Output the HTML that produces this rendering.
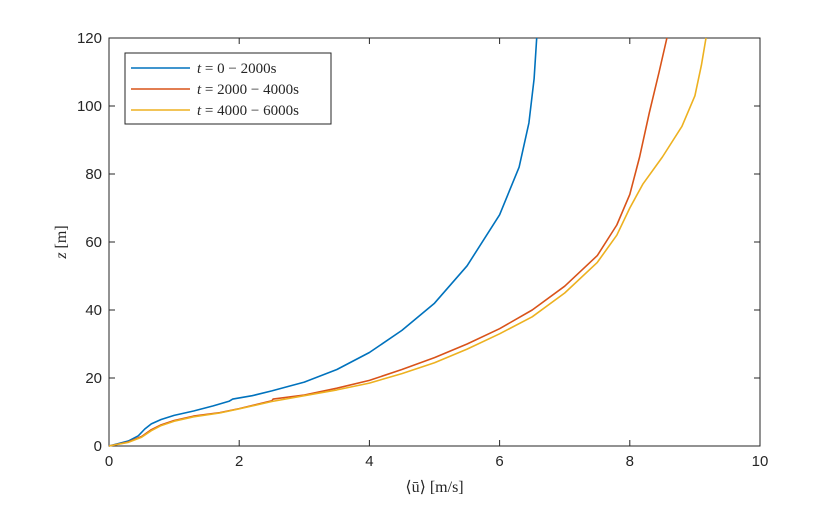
<!DOCTYPE html>
<html><head><meta charset="utf-8"><style>
body{margin:0;background:#fff;}
svg{display:block;font-family:"Liberation Sans",sans-serif;}
</style></head><body>
<svg id="chart" width="840" height="505">
<rect width="840" height="505" fill="#fff"/>
<g id="axes"></g>
<g id="lines"></g>
<g id="legend">
<rect x="125" y="53" width="206" height="71" fill="#fff" stroke="#262626" stroke-width="1"/>
</g>
</svg>
<script>
const xTicks=[0,2,4,6,8,10];
const yTicks=[0,20,40,60,80,100,120];
const seriesNames=["t = 0 − 2000s","t = 2000 − 4000s","t = 4000 − 6000s"];
const seriesColors=["#0072BD","#D95319","#EDB120"];
const blueU=[0,0.3,0.45,0.55,0.65,0.8,1.0,1.3,1.6,1.85,1.9,2.2,2.5,2.75,3.0,3.5,4.0,4.5,5.0,5.5,6.0,6.3,6.45,6.53,6.57];
const blueZ=[0,1.5,3,5,6.5,7.8,9,10.3,11.8,13.2,13.8,14.8,16.2,17.5,18.8,22.5,27.5,34,42,53,68,82,95,108,120];
const orangeU=[0,0.3,0.5,0.65,0.8,1.0,1.3,1.7,2.0,2.5,2.52,3.0,3.5,4.0,4.5,5.0,5.5,6.0,6.5,7.0,7.5,7.8,8.0,8.15,8.3,8.45,8.57];
const orangeZ=[0,1.2,2.8,4.8,6.2,7.5,8.8,9.8,11,13.3,13.8,15,17,19.3,22.5,26,30,34.5,40,47,56,65,74,85,98,110,120];
const yellowU=[0,0.3,0.5,0.65,0.8,1.0,1.3,1.7,2.0,2.5,3.0,3.5,4.0,4.5,5.0,5.5,6.0,6.5,7.0,7.5,7.8,8.0,8.2,8.5,8.8,9.0,9.1,9.17];
const yellowZ=[0,1.1,2.6,4.5,6,7.3,8.6,9.7,10.9,13.1,14.8,16.5,18.5,21.3,24.5,28.5,33,38,45,54,62,70,77,85,94,103,112,120];
const X0=109,X1=760,Y0=446,Y1=38;
const xs=v=>X0+(v-0)/(10-0)*(X1-X0);
const ys=v=>Y0-(v-0)/(120-0)*(Y0-Y1);
const NS="http://www.w3.org/2000/svg";
function mk(t,a,p){const e=document.createElementNS(NS,t);for(const k in a)e.setAttribute(k,a[k]);p.appendChild(e);return e;}
const ax=document.getElementById('axes');
const box=mk('rect',{x:X0,y:Y1,width:X1-X0,height:Y0-Y1,fill:'none',stroke:'#262626','stroke-width':1},ax);


xTicks.forEach(v=>{
 const x=xs(v);
 mk('line',{x1:x,x2:x,y1:Y0,y2:Y0-6,stroke:'#262626'},ax);
 mk('line',{x1:x,x2:x,y1:Y1,y2:Y1+6,stroke:'#262626'},ax);
 const t=mk('text',{x:x,y:Y0+20,'text-anchor':'middle','font-size':15,fill:'#262626'},ax);
 t.textContent=v;
 
 
});
yTicks.forEach(v=>{
 const y=ys(v);
 mk('line',{x1:X0,x2:X0+6,y1:y,y2:y,stroke:'#262626'},ax);
 mk('line',{x1:X1,x2:X1-6,y1:y,y2:y,stroke:'#262626'},ax);
 const t=mk('text',{x:X0-7,y:y+5,'text-anchor':'end','font-size':15,fill:'#262626'},ax);
 t.textContent=v;
 
 
});
const xt=mk('text',{x:(X0+X1)/2,y:Y0+46,'text-anchor':'middle','font-size':16,fill:'#262626','font-family':'Liberation Serif, serif'},ax);
xt.textContent='⟨ū⟩ [m/s]';


const yt=mk('text',{x:0,y:0,'text-anchor':'middle','font-size':16,fill:'#262626','font-family':'Liberation Serif, serif',transform:`translate(66,${(Y0+Y1)/2}) rotate(-90)`},ax);
yt.innerHTML='<tspan font-style="italic">z</tspan> [m]';


const lg=document.getElementById('lines');
const data=[[blueU,blueZ],[orangeU,orangeZ],[yellowU,yellowZ]];
const names=['line-0-2000s','line-2000-4000s','line-4000-6000s'];
data.forEach((d,i)=>{
 const pts=d[0].map((u,j)=>xs(u).toFixed(1)+','+ys(d[1][j]).toFixed(1)).join(' ');
 const p=mk('polyline',{points:pts,fill:'none',stroke:seriesColors[i],'stroke-width':1.6,'stroke-linejoin':'round'},lg);
 
 
});
const leg=document.getElementById('legend');
seriesNames.forEach((n,i)=>{
 const y=68+i*21;
 mk('line',{x1:131,x2:190,y1:y,y2:y,stroke:seriesColors[i],'stroke-width':1.6},leg);
 const t=mk('text',{x:197,y:y+5,'font-size':15,fill:'#262626','font-family':'Liberation Serif, serif'},leg);
 t.innerHTML='<tspan font-style="italic">t</tspan>'+n.slice(1);
 
 
});
</script>
</body></html>
